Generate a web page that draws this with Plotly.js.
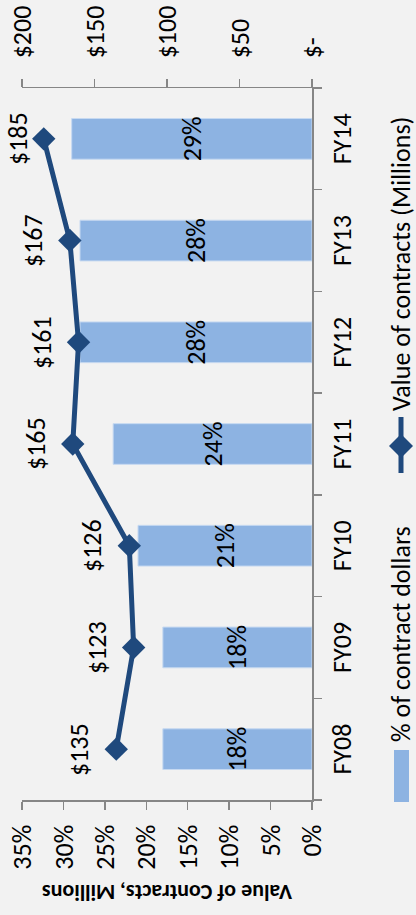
<!DOCTYPE html>
<html><head><meta charset="utf-8">
<script src="https://cdn.plot.ly/plotly-3.0.1.min.js"></script>
<style>
html,body{margin:0;padding:0;overflow:hidden;background:#F2F2F2;width:416px;height:915px;}
#chart{position:absolute;left:0;top:0;width:915px;height:416px;transform-origin:0 0;transform:translate(0px,915px) rotate(-90deg);}
</style></head><body><div id="chart"></div>
<script>
const categories = ['FY08','FY09','FY10','FY11','FY12','FY13','FY14'];
const pctOfContractDollars = [18,18,21,24,28,28,29];
const valueOfContracts = [135,123,126,165,161,167,185];
const pctTicks = [0,5,10,15,20,25,30,35];
const pctTickText = ['0%','5%','10%','15%','20%','25%','30%','35%'];
const dollarTicks = [0,50,100,150,200];
const dollarTickText = ['$-','$50','$100','$150','$200'];
const seriesNames = ['% of contract dollars','Value of contracts (Millions)'];
const yTitle = 'Value of Contracts, Millions';

const W=915,H=416,M={l:115,r:88,t:22,b:104};
const pw=W-M.l-M.r, ph=H-M.t-M.b;
const px=X=>(X-M.l)/pw, py=Y=>(H-M.b-Y)/ph;
const FONT='Carlito, Lato, sans-serif';
const AX='#868686', BAR='#8DB3E2', LINE='#1F497D';
const FS=26;
const Y2MAX=200;

const bars={type:'bar',x:categories,y:pctOfContractDollars,name:seriesNames[0],
  marker:{color:BAR,line:{color:'#C6D9F1',width:1}},
  text:pctOfContractDollars.map(v=>v+'%'),textposition:'inside',insidetextanchor:'middle',textangle:0,
  constraintext:'none',textfont:{family:FONT,size:FS,color:'#000'},hoverinfo:'skip'};
const line={type:'scatter',mode:'lines+markers',x:categories,y:valueOfContracts,yaxis:'y2',
  name:seriesNames[1],line:{color:LINE,width:5},marker:{symbol:'diamond',size:18,color:LINE},
  cliponaxis:false,hoverinfo:'skip'};

const legY=401;
const shapes=[
 {type:'rect',xref:'paper',yref:'paper',x0:px(113),x1:px(165),y0:py(394),y1:py(409),fillcolor:BAR,line:{width:0}},
 {type:'line',xref:'paper',yref:'paper',x0:px(442),x1:px(498),y0:py(legY),y1:py(legY),line:{color:LINE,width:5}},
 {type:'path',xref:'paper',yref:'paper',fillcolor:LINE,line:{color:LINE,width:0},
  path:`M${px(457)},${py(legY)} L${px(469)},${py(legY-12)} L${px(481)},${py(legY)} L${px(469)},${py(legY+12)} Z`}
];
const annotations=[
 {xref:'paper',yref:'paper',x:px(171),y:py(legY),xanchor:'left',yanchor:'middle',showarrow:false,
  text:seriesNames[0],font:{family:FONT,size:FS,color:'#000'}},
 {xref:'paper',yref:'paper',x:px(502),y:py(legY),xanchor:'left',yanchor:'middle',showarrow:false,
  text:seriesNames[1],font:{family:FONT,size:FS,color:'#000'}}
];
// data labels for the line series, offset above each marker
categories.forEach((c,i)=>{
  const v=valueOfContracts[i];
  const markerY=M.t+ph*(1-v/Y2MAX);
  annotations.push({xref:'x',yref:'y2',x:c,y:v,showarrow:false,xanchor:'center',yanchor:'middle',
    yshift:Math.min(37,markerY-18),text:'$'+v,font:{family:FONT,size:FS,color:'#000'}});
});

const layout={width:W,height:H,margin:{l:M.l,r:M.r,t:M.t,b:M.b,pad:0},
  paper_bgcolor:'#F2F2F2',plot_bgcolor:'#F2F2F2',showlegend:false,bargap:0.6,
  font:{family:FONT,size:FS,color:'#000'},
  xaxis:{type:'category',showline:true,linecolor:AX,linewidth:1.5,ticks:'outside',tickson:'boundaries',
    ticklen:8,tickcolor:AX,tickwidth:1.5,showgrid:false,zeroline:false,tickfont:{family:FONT,size:FS},ticklabelstandoff:6},
  yaxis:{range:[0,35],tickvals:pctTicks,ticktext:pctTickText,showline:true,linecolor:AX,linewidth:1.5,ticks:'outside',
    ticklen:8,tickcolor:AX,tickwidth:1.5,showgrid:false,zeroline:false,tickfont:{family:FONT,size:FS},ticklabelstandoff:10,
    title:{text:'<b>'+yTitle+'</b>',font:{family:FONT,size:22},standoff:8}},
  yaxis2:{range:[0,Y2MAX],overlaying:'y',side:'right',tickvals:dollarTicks,ticktext:dollarTickText,showline:true,
    linecolor:AX,linewidth:1.5,ticks:'outside',ticklen:8,tickcolor:AX,tickwidth:1.5,showgrid:false,zeroline:false,
    tickfont:{family:FONT,size:FS},ticklabelstandoff:15},
  shapes:shapes,annotations:annotations};
Plotly.newPlot('chart',[bars,line],layout,{displayModeBar:false,staticPlot:true});
</script></body></html>
